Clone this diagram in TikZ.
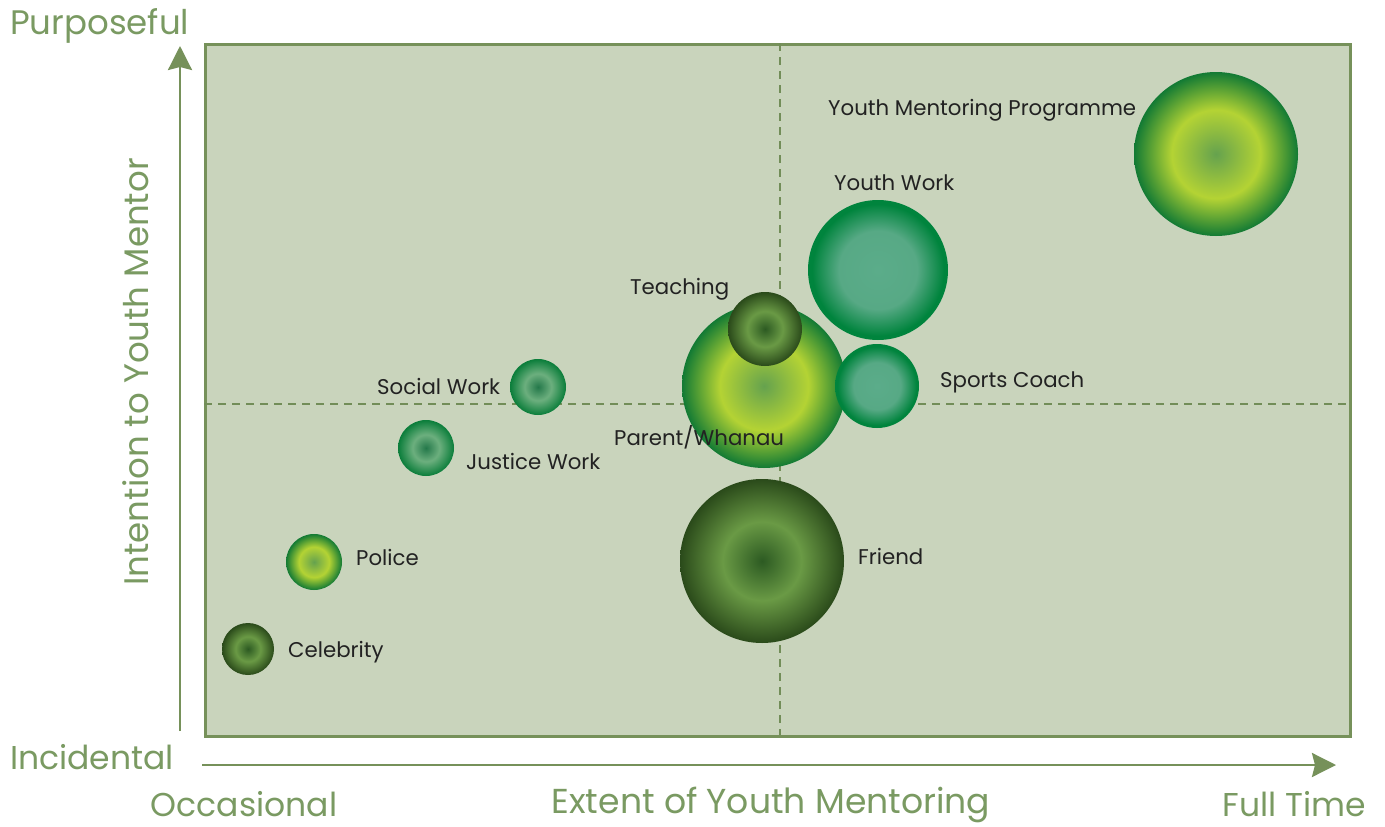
\documentclass[tikz,border=0pt]{standalone}
\usepackage{fontspec}
\setmainfont{Poppins}
\usetikzlibrary{arrows.meta}
\definecolor{axisgreen}{HTML}{7A9A62}
\definecolor{framegreen}{HTML}{76915A}
\definecolor{dashgreen}{HTML}{728D58}
\definecolor{plotbg}{HTML}{C9D4BC}
\definecolor{labeltext}{HTML}{222222}
\definecolor{ybc}{HTML}{65A24E}
\definecolor{ybr}{HTML}{B4D334}
\definecolor{ybe}{HTML}{127A34}
\definecolor{dbc}{HTML}{2C5A22}
\definecolor{dbr}{HTML}{6A9A45}
\definecolor{dbe}{HTML}{2A4A1A}
\definecolor{tbc}{HTML}{5BAC8A}
\definecolor{tbr}{HTML}{57A985}
\definecolor{tbe}{HTML}{00843D}
\definecolor{sbc}{HTML}{24784A}
\definecolor{sbr}{HTML}{6CAF7E}
\definecolor{sbe}{HTML}{0A7D3A}
\pgfdeclareradialshading{yellowball}{\pgfpoint{0bp}{0bp}}{color(0bp)=(ybc); color(13.5bp)=(ybr); color(25bp)=(ybe); color(50bp)=(ybe)}
\pgfdeclareradialshading{darkball}{\pgfpoint{0bp}{0bp}}{color(0bp)=(dbc); color(12bp)=(dbr); color(25bp)=(dbe); color(50bp)=(dbe)}
\pgfdeclareradialshading{tealball}{\pgfpoint{0bp}{0bp}}{color(0bp)=(tbc); color(14bp)=(tbr); color(23.5bp)=(tbe); color(50bp)=(tbe)}
\pgfdeclareradialshading{smallball}{\pgfpoint{0bp}{0bp}}{color(0bp)=(sbc); color(12bp)=(sbr); color(25bp)=(sbe); color(50bp)=(sbe)}
\tikzset{
  bubble/.style={circle, inner sep=0pt, minimum size=#1},
  yb/.style={bubble=#1, shading=yellowball},
  db/.style={bubble=#1, shading=darkball},
  tb/.style={bubble=#1, shading=tealball},
  sb/.style={bubble=#1, shading=smallball},
  lbl/.style={text=labeltext, font=\fontsize{21.3}{24}\selectfont, inner sep=0pt, anchor=west},
  axislbl/.style={text=axisgreen, font=\fontsize{33}{38}\selectfont, inner sep=0pt},
  axisline/.style={draw=framegreen, line width=2.6pt, -{Stealth[length=24pt,width=24pt,inset=3pt]}},
  divider/.style={draw=dashgreen, line width=2.5pt, dash pattern=on 8pt off 6pt},
  plotframe/.style={draw=framegreen, line width=2.5pt, fill=plotbg, inner sep=0pt, anchor=north west, minimum width=1145pt, minimum height=692pt}
}
\begin{document}
\begin{tikzpicture}[x=1pt,y=-1pt]
\fill[white] (0,0) rectangle (1385,827);
\useasboundingbox (0,0) rectangle (1385,827);
\node[plotframe] (plot) at (204,43) {};
\coordinate (vtop) at (780,43);
\coordinate (vbot) at (780,735);
\coordinate (hl) at (204,404);
\coordinate (hr) at (1349,404);
\draw[divider] (vtop) -- (vbot);
\draw[divider] (hl) -- (hr);
% axes
\coordinate (yfrom) at (180,731);
\coordinate (yto) at (180,46);
\coordinate (xfrom) at (202,765);
\coordinate (xto) at (1336,765);
\draw[axisline] (yfrom) -- (yto);
\draw[axisline] (xfrom) -- (xto);
\node[axislbl, anchor=west, font=\fontsize{34}{38}\selectfont] (purp) at (10,26) {Purposeful};
\node[axislbl, anchor=west] (inc) at (10,757) {Incidental};
\node[axislbl] (occ) at (244,804) {Occasional};
\node[axislbl, font=\fontsize{34.6}{38}\selectfont] (ext) at (771,805) {Extent of Youth Mentoring};
\node[axislbl] (ft) at (1294,804) {Full Time};
\node[axislbl, rotate=90, font=\fontsize{34}{38}\selectfont] (intent) at (136,372) {Intention to Youth Mentor};
% bubbles
\node[yb=164pt] (ymp) at (1216,154) {};
\node[tb=140pt] (yw) at (878,270) {};
\node[yb=164pt] (pw) at (764,386) {};
\node[db=74pt] (teach) at (765,329) {};
\node[tb=84pt] (sc) at (877,386) {};
\node[sb=56pt] (sw) at (538,387) {};
\node[sb=56pt] (jw) at (426,448) {};
\node[yb=56pt] (pol) at (314,562) {};
\node[db=52pt] (cel) at (248,649) {};
\node[db=164pt] (fr) at (762,561) {};
% labels
\node[lbl] (lymp) at (828,110) {Youth Mentoring Programme};
\node[lbl] (lyw) at (834,183) {Youth Work};
\node[lbl] (lteach) at (630,289) {Teaching};
\node[lbl] (lsw) at (377,386) {Social Work};
\node[lbl] (lsc) at (940,382) {Sports Coach};
\node[lbl] (lpw) at (614,437) {Parent/Whanau};
\node[lbl] (ljw) at (466,461) {Justice Work};
\node[lbl] (lpol) at (356,557) {Police};
\node[lbl] (lfr) at (858,556) {Friend};
\node[lbl] (lcel) at (288,652) {Celebrity};
\end{tikzpicture}
\end{document}
